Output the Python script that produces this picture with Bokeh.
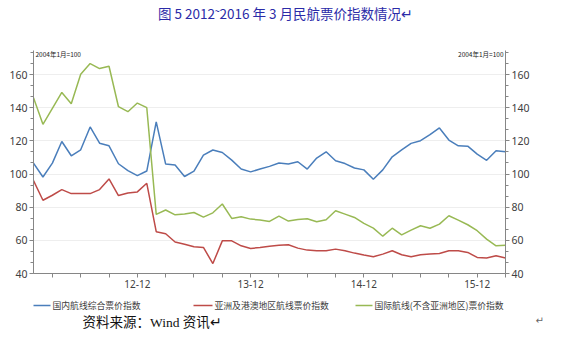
from bokeh.plotting import figure
from bokeh.layouts import column
from bokeh.models import Range1d, LinearAxis, FixedTicker, Label
from bokeh.embed import file_html
from bokeh.resources import INLINE
from bokeh.core.properties import value

# ---- data (monthly, Jan 2012 .. Mar 2016) ----
months = list(range(51))
domestic = [106.6, 98.2, 106.6, 119.6, 111.0, 114.6, 128.4, 118.6, 117.0, 106.2,
            102.0, 99.0, 101.8, 131.4, 106.0, 105.4, 98.5, 101.8, 111.4, 114.5,
            113.0, 108.4, 103.0, 101.3, 103.0, 104.6, 106.6, 106.0, 107.4, 103.0,
            109.6, 113.4, 108.0, 106.3, 103.6, 102.5, 96.9, 102.5, 110.4, 114.5,
            118.5, 120.1, 123.7, 127.8, 120.5, 117.0, 116.8, 112.0, 108.3, 114.0,
            113.4]
asia = [96.0, 84.2, 87.2, 90.6, 88.2, 88.2, 88.2, 90.6, 97.0, 87.0,
        88.6, 89.2, 94.4, 65.2, 64.0, 59.0, 57.7, 56.1, 55.7, 46.0,
        59.7, 59.7, 56.7, 55.1, 55.7, 56.5, 57.1, 57.3, 55.3, 54.1,
        53.7, 53.7, 54.7, 53.7, 52.3, 51.1, 50.1, 51.7, 53.7, 51.3,
        50.1, 51.3, 51.7, 52.1, 53.7, 53.7, 52.7, 49.7, 49.3, 50.7,
        49.3]
international = [146.0, 130.0, 139.6, 149.2, 142.4, 160.2, 166.6, 163.6, 165.0, 140.6,
                 137.6, 142.8, 140.0, 75.7, 78.3, 75.4, 75.9, 76.8, 74.0, 76.6,
                 81.9, 73.2, 74.2, 72.8, 72.3, 71.4, 74.6, 71.6, 72.6, 73.0,
                 71.2, 72.4, 77.8, 75.8, 73.8, 70.2, 67.4, 62.5, 67.3, 63.3,
                 66.2, 68.8, 67.3, 69.8, 74.8, 72.2, 69.4, 65.8, 60.7, 56.7,
                 57.1]
series_names = ["国内航线综合票价指数", "亚洲及港澳地区航线票价指数", "国际航线(不含亚洲地区)票价指数"]
x_major = [11, 23, 35, 47]
x_major_labels = ["12-12", "13-12", "14-12", "15-12"]
x_minor = [2, 5, 8, 14, 17, 20, 26, 29, 32, 38, 41, 44, 50]
y_major = [40, 60, 80, 100, 120, 140, 160]
y_minor = [40 + k * 20 / 3 for k in range(21)]
title_text = "图 5   2012˜2016 年 3 月民航票价指数情况↵"
note_text = "资料来源：Wind 资讯↵"
base_text = "2004年1月=100"

W = 561
TOP_H, MAIN_H, BOT_H = 50, 246, 48
L, R, B = 33, 56, 23
FX0, FX1 = L, W - R          # frame extent in page px (frames are aligned in the column)

colors = ["#4a7ebb", "#be4b48", "#98b954"]
axis_col = "#868686"
lab_col = "#404040"

# legend layout (page px)
leg_x0 = [31.0, 193.0, 355.0]
leg_x1 = [50.0, 212.0, 372.0]
leg_tx = [52.0, 214.0, 374.0]
leg_y = 305.0


def blank_fig(h):
    f = figure(width=W, height=h, output_backend="svg", toolbar_location=None,
               title=None, x_axis_type=None, y_axis_type=None,
               x_range=Range1d(FX0, FX1), y_range=Range1d(0, h),
               min_border_left=L, min_border_right=R, min_border_top=0, min_border_bottom=0)
    f.outline_line_color = None
    f.grid.visible = False
    f.background_fill_color = "white"
    f.border_fill_color = "white"
    return f


# ---- top: title ----
top = blank_fig(TOP_H)
top.add_layout(Label(x=288, y=TOP_H - 12, text=title_text,
                     text_font="Noto Sans CJK SC", text_font_size="13.5px",
                     text_color="#2b2ba8", text_align="center", text_baseline="middle"))

# ---- main chart ----
p = figure(width=W, height=MAIN_H, output_backend="svg", toolbar_location=None,
           title=None, x_range=Range1d(0, 50), y_range=Range1d(40, 174.5),
           min_border_left=L, min_border_right=R, min_border_top=0, min_border_bottom=B)
p.outline_line_color = None
p.background_fill_color = "white"
p.border_fill_color = "white"
p.xgrid.visible = False
p.ygrid.grid_line_color = "#eeeeee"
p.ygrid.ticker = FixedTicker(ticks=y_major)

xa = p.xaxis[0]
xa.ticker = FixedTicker(ticks=x_major, minor_ticks=x_minor)
xa.major_label_overrides = {t: s for t, s in zip(x_major, x_major_labels)}
xa.axis_line_color = axis_col
xa.major_tick_line_color = axis_col
xa.minor_tick_line_color = axis_col
xa.major_tick_in = 0
xa.major_tick_out = 4
xa.minor_tick_in = 0
xa.minor_tick_out = 4
xa.major_label_standoff = 2
xa.major_label_text_font = "Noto Sans"
xa.major_label_text_font_size = "10px"
xa.major_label_text_color = lab_col

ya = p.yaxis[0]
ra = LinearAxis()
p.add_layout(ra, "right")
for a in (ya, ra):
    a.ticker = FixedTicker(ticks=y_major, minor_ticks=y_minor)
    a.axis_line_color = axis_col
    a.major_tick_line_color = axis_col
    a.minor_tick_line_color = axis_col
    a.major_tick_in = 0
    a.major_tick_out = 4
    a.minor_tick_in = 0
    a.minor_tick_out = 3
    a.major_label_standoff = 2
    a.major_label_text_font = "Noto Sans"
    a.major_label_text_font_size = "10.5px"
    a.major_label_text_color = lab_col

for ys, c in zip([domestic, asia, international], colors):
    p.line(months, ys, line_color=c, line_width=1.5)

FH = MAIN_H - B  # frame height
p.add_layout(Label(x=2, y=FH - 3, x_units="screen", y_units="screen", text=base_text,
                   text_font="Noto Sans CJK SC", text_font_size="6.5px", text_color="#222222",
                   text_align="left", text_baseline="middle"))
p.add_layout(Label(x=FX1 - FX0 - 2, y=FH - 3, x_units="screen", y_units="screen", text=base_text,
                   text_font="Noto Sans CJK SC", text_font_size="6.5px", text_color="#222222",
                   text_align="right", text_baseline="middle"))

# ---- bottom: legend and source note ----
bot = blank_fig(BOT_H)
y_local = BOT_H - (leg_y - (TOP_H + MAIN_H))
bot.segment(x0=leg_x0, y0=[y_local] * 3, x1=leg_x1, y1=[y_local] * 3,
            line_color=colors, line_width=1.5)
bot.text(x=leg_tx, y=[y_local] * 3, text=series_names,
         text_font=value("Noto Sans CJK SC"), text_font_size="8.8px",
         text_color=lab_col, text_align="left", text_baseline="middle")
bot.add_layout(Label(x=82, y=BOT_H - 26, text=note_text,
                     text_font="'Liberation Serif', 'Noto Sans CJK SC'", text_font_size="13.5px",
                     text_color="#111111", text_align="left", text_baseline="middle"))
mark_axis = LinearAxis(ticker=FixedTicker(ticks=[]), axis_line_color=None,
                       major_tick_line_color=None, minor_tick_line_color=None,
                       axis_label="↵", axis_label_orientation="horizontal",
                       axis_label_standoff=30, axis_label_text_font="DejaVu Sans",
                       axis_label_text_font_size="10px", axis_label_text_font_style="normal",
                       axis_label_text_color="#666666")
bot.add_layout(mark_axis, "right")

layout = column(top, p, bot, spacing=0)
open("out.html", "w").write(file_html(layout, INLINE))
